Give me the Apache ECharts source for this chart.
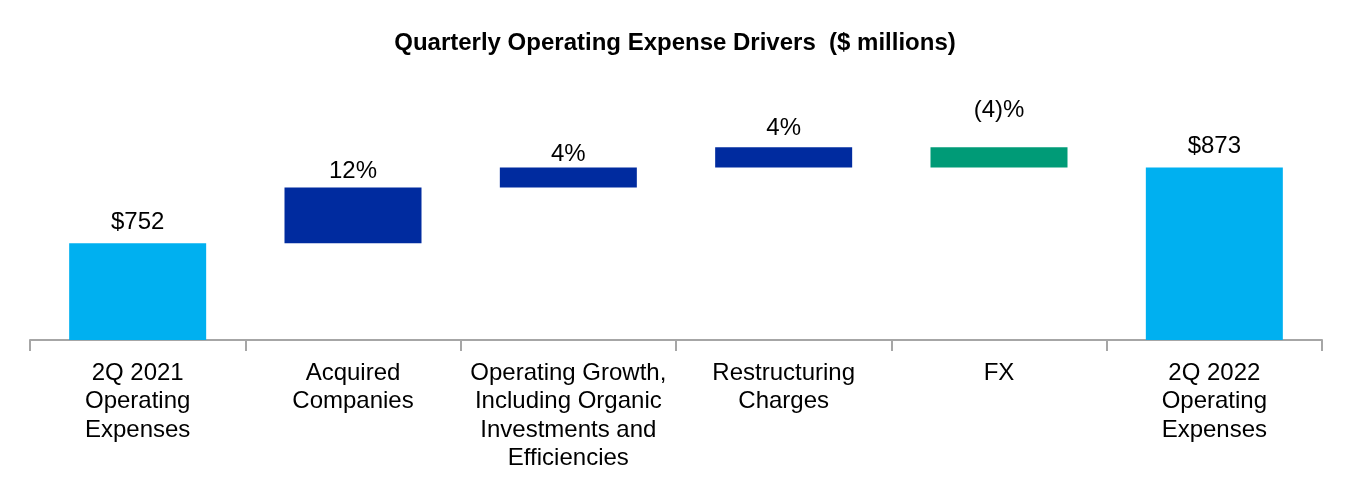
<!DOCTYPE html>
<html>
<head>
<meta charset="utf-8">
<script src="https://cdn.jsdelivr.net/npm/echarts@6/dist/echarts.min.js"></script>
<style>html,body{margin:0;padding:0;background:#fff}#c{width:1350px;height:500px}</style>
</head>
<body>
<div id="c"></div>
<script>
const categories = [
  '2Q 2021\nOperating\nExpenses',
  'Acquired\nCompanies',
  'Operating Growth,\nIncluding Organic\nInvestments and\nEfficiencies',
  'Restructuring\nCharges',
  'FX',
  '2Q 2022\nOperating\nExpenses'
];
const amounts = [752, 89, 32, 32, -32, 873];
const isTotal = [true, false, false, false, false, true];
const valueLabels = ['$752', '12%', '4%', '4%', '(4)%', '$873'];
const Y_MIN = 598, Y_MAX = 998;

// layout / style (not data)
const labelGap = [9, 4, 1, 7, 25, 9];
const COLOR_TOTAL = '#00B0F0', COLOR_UP = '#002B9F', COLOR_DOWN = '#009B77';
const FONT = 'Arial, "Liberation Sans", sans-serif';

const base = [], visible = [];
let running = 0;
amounts.forEach((a, i) => {
  if (isTotal[i]) {
    base.push(Y_MIN);
    visible.push({
      value: a - Y_MIN,
      itemStyle: { color: COLOR_TOTAL },
      label: { distance: labelGap[i] }
    });
    running = a;
  } else {
    const low = Math.min(running, running + a);
    base.push(low);
    visible.push({
      value: Math.abs(a),
      itemStyle: { color: a >= 0 ? COLOR_UP : COLOR_DOWN },
      label: { distance: labelGap[i] }
    });
    running += a;
  }
});

const chart = echarts.init(document.getElementById('c'));
chart.setOption({
  animation: false,
  title: {
    text: 'Quarterly Operating Expense Drivers  ($ millions)',
    left: 'center',
    top: 26,
    textStyle: { fontFamily: FONT, fontSize: 24, fontWeight: 'bold', color: '#000' }
  },
  grid: { left: 30, right: 28, top: 89, bottom: 160 },
  xAxis: {
    type: 'category',
    data: categories,
    axisLine: { lineStyle: { color: '#A6A6A6', width: 2 } },
    axisTick: { show: true, length: 11, lineStyle: { color: '#A6A6A6', width: 2 } },
    axisLabel: {
      interval: 0,
      margin: 19,
      fontFamily: FONT,
      fontSize: 24,
      lineHeight: 28.5,
      color: '#000'
    }
  },
  yAxis: {
    type: 'value',
    min: Y_MIN,
    max: Y_MAX,
    show: false,
    splitLine: { show: false }
  },
  series: [
    {
      type: 'bar',
      stack: 'w',
      data: base,
      barWidth: 137,
      itemStyle: { color: 'transparent' },
      silent: true
    },
    {
      type: 'bar',
      stack: 'w',
      data: visible,
      barWidth: 137,
      label: {
        show: true,
        position: 'top',
        fontFamily: FONT,
        fontSize: 24,
        color: '#000',
        formatter: p => valueLabels[p.dataIndex]
      }
    }
  ]
});
</script>
</body>
</html>
